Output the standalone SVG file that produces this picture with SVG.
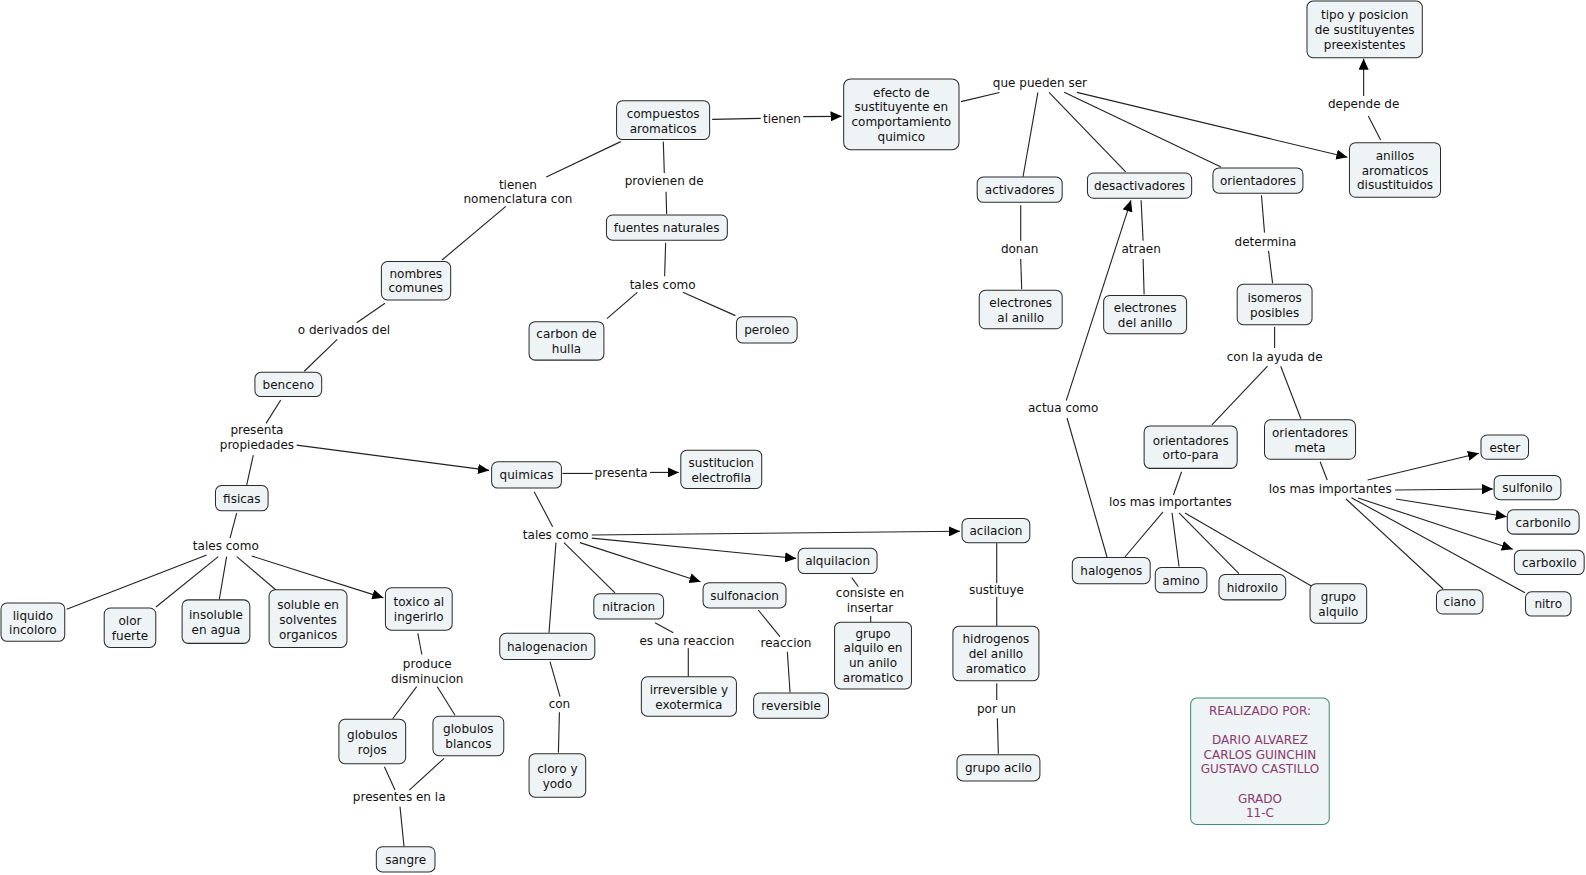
<svg xmlns="http://www.w3.org/2000/svg" width="1586" height="875" viewBox="0 0 1586 875">
<style>
.n rect{fill:#eef3f5;stroke:#2a2a2a;stroke-width:1}
text{font-family:"DejaVu Sans",Verdana,sans-serif;font-size:11.9px;fill:#111;text-anchor:middle}
.c line{stroke:#222;stroke-width:1.1}
.c line.a{marker-end:url(#ah)}
.cred rect{fill:#eef3f5;stroke:#3f8f6f;stroke-width:1}
.cred text{fill:#8b3a6a}
</style>
<defs>
<marker id="ah" markerUnits="userSpaceOnUse" markerWidth="11" markerHeight="10" refX="11" refY="5" orient="auto">
<path d="M0,0 L11,5 L0,10 z" fill="#000"/>
</marker>
</defs>
<rect width="1586" height="875" fill="#fff"/>
<g transform="scale(1.0116)">
<g class="c" id="connectors">
<line x1="704" y1="118" x2="752" y2="117"/>
<line class="a" x1="794" y1="115.3" x2="832" y2="115"/>
<line x1="950" y1="100.5" x2="988" y2="91.5"/>
<line x1="1026" y1="91.3" x2="1011.3" y2="174.7"/>
<line x1="1037" y1="91.3" x2="1112.8" y2="170"/>
<line x1="1052" y1="91.3" x2="1207" y2="165"/>
<line class="a" x1="1064.6" y1="91.3" x2="1332" y2="155.5"/>
<line x1="1364.8" y1="138.4" x2="1352.6" y2="114.7"/>
<line class="a" x1="1348" y1="95" x2="1348" y2="58"/>
<line x1="613.6" y1="140" x2="540" y2="175"/>
<line x1="500" y1="204" x2="437" y2="257"/>
<line x1="655.7" y1="140" x2="656.7" y2="171"/>
<line x1="658.4" y1="189.5" x2="659" y2="211.5"/>
<line x1="658" y1="240" x2="657" y2="273"/>
<line x1="630" y1="289" x2="600" y2="315"/>
<line x1="675" y1="289" x2="727" y2="312"/>
<line x1="1009" y1="203" x2="1009" y2="238"/>
<line x1="1009" y1="256" x2="1010" y2="286"/>
<line x1="1128" y1="198" x2="1130" y2="238"/>
<line x1="1130" y1="256" x2="1131" y2="291"/>
<line x1="1247" y1="193" x2="1250" y2="230"/>
<line x1="1254" y1="248" x2="1258" y2="280"/>
<line x1="1260" y1="323" x2="1260" y2="344"/>
<line x1="1253" y1="362" x2="1198" y2="420"/>
<line x1="1266" y1="362" x2="1286" y2="414"/>
<line x1="1168" y1="466.3" x2="1160" y2="489.3"/>
<line x1="1149.7" y1="506.1" x2="1112" y2="550.6"/>
<line x1="1158.6" y1="507" x2="1165.5" y2="560"/>
<line x1="1165.5" y1="507" x2="1224.8" y2="567"/>
<line x1="1171.4" y1="507.1" x2="1298" y2="580.3"/>
<line x1="1094.3" y1="550.6" x2="1054.8" y2="413.2"/>
<line class="a" x1="1054" y1="396" x2="1118" y2="198"/>
<line x1="1305" y1="456.4" x2="1312" y2="474.5"/>
<line class="a" x1="1352" y1="474.5" x2="1462" y2="448"/>
<line class="a" x1="1379" y1="484.4" x2="1476" y2="483.4"/>
<line class="a" x1="1380" y1="493.3" x2="1489.5" y2="510.8"/>
<line class="a" x1="1342.6" y1="492.3" x2="1495.5" y2="543"/>
<line x1="1330.6" y1="493.3" x2="1426.5" y2="582"/>
<line x1="1336" y1="492" x2="1507.5" y2="586"/>
<line x1="985.3" y1="537" x2="985.3" y2="576.6"/>
<line x1="985.3" y1="589.8" x2="985.3" y2="618.8"/>
<line x1="985.3" y1="675.5" x2="985.3" y2="692"/>
<line x1="985.9" y1="710" x2="986.9" y2="745"/>
<line x1="380.6" y1="299.8" x2="352.6" y2="319"/>
<line x1="333.4" y1="335.4" x2="300.8" y2="367"/>
<line x1="277.5" y1="395.4" x2="263" y2="418.5"/>
<line x1="250.4" y1="449.8" x2="243.9" y2="479.4"/>
<line class="a" x1="293.3" y1="440" x2="483.5" y2="465"/>
<line x1="234" y1="507" x2="227.4" y2="532"/>
<line x1="204.3" y1="548.6" x2="65.9" y2="602.3"/>
<line x1="215.8" y1="550.3" x2="154.2" y2="600"/>
<line x1="224" y1="550.3" x2="216.8" y2="592.4"/>
<line x1="234" y1="550.3" x2="272.8" y2="583.2"/>
<line class="a" x1="248.8" y1="549.6" x2="379" y2="591"/>
<line x1="413" y1="626" x2="417" y2="647"/>
<line x1="411.9" y1="678.8" x2="388.2" y2="710.5"/>
<line x1="432.3" y1="678.8" x2="449.8" y2="707"/>
<line x1="380" y1="757.9" x2="390.5" y2="781"/>
<line x1="439" y1="749.6" x2="404.6" y2="781"/>
<line x1="395.4" y1="797.4" x2="399.4" y2="837"/>
<line x1="556" y1="468" x2="586" y2="468"/>
<line class="a" x1="642.5" y1="467" x2="671" y2="467"/>
<line x1="528" y1="486" x2="546.3" y2="520.6"/>
<line x1="549.6" y1="536.4" x2="542.7" y2="625.4"/>
<line x1="557.5" y1="536.4" x2="608" y2="586"/>
<line class="a" x1="573.3" y1="536.4" x2="692.5" y2="575"/>
<line class="a" x1="585" y1="532" x2="787" y2="552"/>
<line class="a" x1="585" y1="528.9" x2="949" y2="525.2"/>
<line x1="543.7" y1="654" x2="553.6" y2="688.7"/>
<line x1="553" y1="704" x2="552" y2="744"/>
<line x1="647.5" y1="615.5" x2="665.6" y2="625.4"/>
<line x1="680.4" y1="640.9" x2="680.4" y2="669"/>
<line x1="749.6" y1="603" x2="771" y2="629.4"/>
<line x1="778.3" y1="644.2" x2="781" y2="684.5"/>
<line x1="842" y1="571" x2="848.5" y2="580"/>
<line x1="860.7" y1="609" x2="860.7" y2="615"/>
</g>
<g id="labels">
<text x="773" y="121.5">tienen</text>
<text x="1028" y="86">que pueden ser</text>
<text x="1348" y="106.5">depende de</text>
<text x="512" y="186.5">tienen</text>
<text x="512" y="201">nomenclatura con</text>
<text x="656.5" y="182.5">provienen de</text>
<text x="655" y="285.5">tales como</text>
<text x="1008" y="250.5">donan</text>
<text x="1128" y="250.5">atraen</text>
<text x="1251" y="243.5">determina</text>
<text x="1260" y="356.5">con la ayuda de</text>
<text x="1051" y="407.5">actua como</text>
<text x="1157" y="500.5">los mas importantes</text>
<text x="1315" y="487.5">los mas importantes</text>
<text x="340" y="330.5">o derivados del</text>
<text x="254" y="429.5">presenta</text>
<text x="254" y="444">propiedades</text>
<text x="614" y="471.5">presenta</text>
<text x="223.2" y="544">tales como</text>
<text x="549.4" y="532.5">tales como</text>
<text x="422.4" y="660.5">produce</text>
<text x="422.4" y="675">disminucion</text>
<text x="394.6" y="792">presentes en la</text>
<text x="679" y="637.5">es una reaccion</text>
<text x="777" y="639.5">reaccion</text>
<text x="860" y="590.5">consiste en</text>
<text x="860" y="605">insertar</text>
<text x="985" y="587.5">sustituye</text>
<text x="985" y="704.5">por un</text>
<text x="553" y="699.5">con</text>
</g>
<g class="n" id="n-compuestos"><rect x="609.5" y="99.5" width="92" height="38.5" rx="6"/><text x="655.5" y="116.5">compuestos</text><text x="655.5" y="131">aromaticos</text></g>
<g class="n" id="n-efecto"><rect x="834" y="78" width="114" height="70" rx="7"/><text x="891" y="95.5">efecto de</text><text x="891" y="110">sustituyente en</text><text x="891" y="124.5">comportamiento</text><text x="891" y="139">quimico</text></g>
<g class="n" id="n-tipo"><rect x="1292" y="1" width="114" height="56" rx="6"/><text x="1349" y="19">tipo y posicion</text><text x="1349" y="33.5">de sustituyentes</text><text x="1349" y="48">preexistentes</text></g>
<g class="n" id="n-anillos"><rect x="1334" y="141" width="90" height="54" rx="6"/><text x="1379" y="158">anillos</text><text x="1379" y="172.5">aromaticos</text><text x="1379" y="187">disustituidos</text></g>
<g class="n" id="n-activadores"><rect x="966" y="175" width="84" height="25" rx="6"/><text x="1008" y="192">activadores</text></g>
<g class="n" id="n-desactivadores"><rect x="1075" y="171" width="103" height="25" rx="6"/><text x="1126.5" y="188">desactivadores</text></g>
<g class="n" id="n-orientadores"><rect x="1199" y="166" width="89" height="25" rx="6"/><text x="1243.5" y="183">orientadores</text></g>
<g class="n" id="n-electrones-al"><rect x="968" y="287" width="82" height="38" rx="6"/><text x="1009" y="303.5">electrones</text><text x="1009" y="318">al anillo</text></g>
<g class="n" id="n-electrones-del"><rect x="1091" y="292" width="82" height="38" rx="6"/><text x="1132" y="308.5">electrones</text><text x="1132" y="323">del anillo</text></g>
<g class="n" id="n-isomeros"><rect x="1223" y="281" width="74" height="40" rx="6"/><text x="1260" y="298.5">isomeros</text><text x="1260" y="313">posibles</text></g>
<g class="n" id="n-orto"><rect x="1131" y="421" width="92" height="42" rx="6"/><text x="1177" y="439.5">orientadores</text><text x="1177" y="454">orto-para</text></g>
<g class="n" id="n-meta"><rect x="1250" y="415" width="90" height="39" rx="6"/><text x="1295" y="432">orientadores</text><text x="1295" y="446.5">meta</text></g>
<g class="n" id="n-ester"><rect x="1464" y="430" width="47" height="24" rx="6"/><text x="1487.5" y="446.5">ester</text></g>
<g class="n" id="n-sulfonilo"><rect x="1477" y="470" width="66" height="24" rx="6"/><text x="1510" y="486.5">sulfonilo</text></g>
<g class="n" id="n-carbonilo"><rect x="1490" y="504" width="71" height="24" rx="6"/><text x="1525.5" y="520.5">carbonilo</text></g>
<g class="n" id="n-carboxilo"><rect x="1497" y="544" width="69" height="24" rx="6"/><text x="1531.5" y="560.5">carboxilo</text></g>
<g class="n" id="n-ciano"><rect x="1420" y="583" width="46" height="24" rx="6"/><text x="1443" y="599.5">ciano</text></g>
<g class="n" id="n-nitro"><rect x="1508" y="585" width="45" height="24" rx="6"/><text x="1530.5" y="601.5">nitro</text></g>
<g class="n" id="n-halogenos"><rect x="1060" y="551" width="77" height="26" rx="6"/><text x="1098.5" y="568.5">halogenos</text></g>
<g class="n" id="n-amino"><rect x="1142" y="561" width="51" height="25" rx="6"/><text x="1167.5" y="578">amino</text></g>
<g class="n" id="n-hidroxilo"><rect x="1205" y="568" width="66" height="25" rx="6"/><text x="1238" y="585">hidroxilo</text></g>
<g class="n" id="n-grupo-alquilo"><rect x="1295" y="577" width="56" height="39" rx="6"/><text x="1323" y="594">grupo</text><text x="1323" y="608.5">alquilo</text></g>
<g class="n" id="n-acilacion"><rect x="951" y="512.5" width="67" height="24" rx="6"/><text x="984.5" y="529">acilacion</text></g>
<g class="n" id="n-hidrogenos"><rect x="942" y="619" width="85" height="54" rx="6"/><text x="984.5" y="636">hidrogenos</text><text x="984.5" y="650.5">del anillo</text><text x="984.5" y="665">aromatico</text></g>
<g class="n" id="n-grupo-acilo"><rect x="946" y="746" width="82" height="26" rx="6"/><text x="987" y="763.5">grupo acilo</text></g>
<g class="cred" id="n-realizado"><rect x="1177" y="690" width="137" height="125" rx="6"/><text x="1245.5" y="706.5">REALIZADO POR:</text><text x="1245.5" y="735.5">DARIO ALVAREZ</text><text x="1245.5" y="750">CARLOS GUINCHIN</text><text x="1245.5" y="764.5">GUSTAVO CASTILLO</text><text x="1245.5" y="793.5">GRADO</text><text x="1245.5" y="808">11-C</text></g>
<g class="n" id="n-nombres"><rect x="377" y="258.5" width="68.5" height="38" rx="6"/><text x="411" y="274.5">nombres</text><text x="411" y="289">comunes</text></g>
<g class="n" id="n-fuentes"><rect x="599.5" y="212.5" width="119.5" height="25" rx="6"/><text x="659" y="229.5">fuentes naturales</text></g>
<g class="n" id="n-carbon"><rect x="523" y="318" width="74" height="38" rx="6"/><text x="560" y="334.5">carbon de</text><text x="560" y="349">hulla</text></g>
<g class="n" id="n-peroleo"><rect x="728" y="313" width="60" height="26" rx="6"/><text x="758" y="330.5">peroleo</text></g>
<g class="n" id="n-benceno"><rect x="252" y="368" width="66" height="24" rx="6"/><text x="285" y="384.5">benceno</text></g>
<g class="n" id="n-fisicas"><rect x="213" y="480" width="52" height="25" rx="6"/><text x="239" y="497">fisicas</text></g>
<g class="n" id="n-quimicas"><rect x="486" y="456.5" width="69" height="26" rx="6"/><text x="520.5" y="474">quimicas</text></g>
<g class="n" id="n-sustitucion"><rect x="673" y="445" width="80" height="38" rx="6"/><text x="713" y="461.5">sustitucion</text><text x="713" y="476">electrofila</text></g>
<g class="n" id="n-liquido"><rect x="1" y="596" width="63" height="38" rx="6"/><text x="32.5" y="612.5">liquido</text><text x="32.5" y="627">incoloro</text></g>
<g class="n" id="n-olor"><rect x="103" y="601" width="51" height="39" rx="6"/><text x="128.5" y="618">olor</text><text x="128.5" y="632.5">fuerte</text></g>
<g class="n" id="n-insoluble"><rect x="180" y="593" width="67" height="43" rx="6"/><text x="213.5" y="612">insoluble</text><text x="213.5" y="626.5">en agua</text></g>
<g class="n" id="n-soluble"><rect x="266" y="583" width="77" height="57" rx="6"/><text x="304.5" y="602.5">soluble en</text><text x="304.5" y="617">solventes</text><text x="304.5" y="631.5">organicos</text></g>
<g class="n" id="n-toxico"><rect x="381" y="581" width="66" height="42" rx="6"/><text x="414" y="599.5">toxico al</text><text x="414" y="614">ingerirlo</text></g>
<g class="n" id="n-rojos"><rect x="335" y="711" width="66" height="44" rx="6"/><text x="368" y="730.5">globulos</text><text x="368" y="745">rojos</text></g>
<g class="n" id="n-blancos"><rect x="428" y="708" width="70" height="39" rx="6"/><text x="463" y="725">globulos</text><text x="463" y="739.5">blancos</text></g>
<g class="n" id="n-sangre"><rect x="372" y="837" width="58" height="25" rx="6"/><text x="401" y="854">sangre</text></g>
<g class="n" id="n-halogenacion"><rect x="494" y="626" width="94" height="26" rx="6"/><text x="541" y="643.5">halogenacion</text></g>
<g class="n" id="n-nitracion"><rect x="587" y="587" width="69" height="25" rx="6"/><text x="621.5" y="604">nitracion</text></g>
<g class="n" id="n-sulfonacion"><rect x="695" y="576" width="82" height="25" rx="6"/><text x="736" y="593">sulfonacion</text></g>
<g class="n" id="n-alquilacion"><rect x="789" y="542" width="78" height="25" rx="6"/><text x="828" y="559">alquilacion</text></g>
<g class="n" id="n-grupo-anilo"><rect x="825" y="615" width="76" height="66" rx="6"/><text x="863" y="630.5">grupo</text><text x="863" y="645">alquilo en</text><text x="863" y="659.5">un anilo</text><text x="863" y="674">aromatico</text></g>
<g class="n" id="n-irreversible"><rect x="634" y="669" width="94" height="39" rx="6"/><text x="681" y="686">irreversible y</text><text x="681" y="700.5">exotermica</text></g>
<g class="n" id="n-reversible"><rect x="745" y="685" width="74" height="25" rx="6"/><text x="782" y="702">reversible</text></g>
<g class="n" id="n-cloro"><rect x="523" y="745" width="56" height="43" rx="6"/><text x="551" y="764">cloro y</text><text x="551" y="778.5">yodo</text></g>
</g>
</svg>
